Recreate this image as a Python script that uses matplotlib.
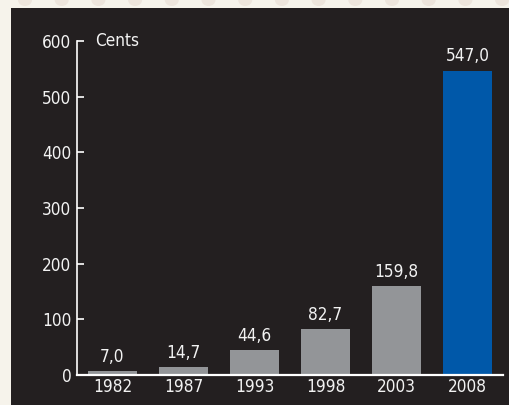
import matplotlib.pyplot as plt
from matplotlib.patches import Rectangle, Ellipse

years = ["1982", "1987", "1993", "1998", "2003", "2008"]
cents = [7.0, 14.7, 44.6, 82.7, 159.8, 547.0]
labels = ["7,0", "14,7", "44,6", "82,7", "159,8", "547,0"]

W, H = 510, 405
plt.rcParams['font.family'] = ['DejaVu Sans']
plt.rcParams['font.stretch'] = 'condensed'
FS = 12.3

fig = plt.figure(figsize=(W / 100, H / 100), dpi=100)
fig.patch.set_facecolor('#f6f3eb')

# dark panel behind the chart
fig.add_artist(Rectangle((11 / W, 0), 1, (H - 8) / H, transform=fig.transFigure,
                         facecolor='#231f20', edgecolor='none', zorder=0))
# row of dots along the top edge
for i in range(15):
    cx = 25 + i * 36.7
    fig.add_artist(Ellipse((cx / W, 1), 14 / W, 12 / H, transform=fig.transFigure,
                           facecolor='#ede5dc', edgecolor='none', zorder=0))

ax = fig.add_axes([77 / W, 30 / H, 426 / W, 334 / H])
ax.set_facecolor('none')

colors = ['#939598'] * 5 + ['#0058a9']
x = range(len(years))
bars = ax.bar(x, cents, width=0.7, color=colors, zorder=2)
for b, lab in zip(bars, labels):
    ax.text(b.get_x() + b.get_width() / 2, b.get_height() + 9, lab,
            ha='center', va='bottom', color='#f2f2f2', fontsize=FS)

ax.set_xlim(-0.5, 5.5)
ax.set_ylim(0, 600)
ax.set_yticks(range(0, 601, 100))
ax.set_xticks(list(x))
ax.set_xticklabels(years)
ax.tick_params(axis='y', direction='in', length=5, width=1.2, colors='white',
               labelcolor='#f2f2f2', labelsize=FS, pad=4)
ax.tick_params(axis='x', length=0, labelcolor='#f2f2f2', labelsize=FS, pad=2.5)
for s in ['top', 'right']:
    ax.spines[s].set_visible(False)
ax.spines['left'].set_color('white')
ax.spines['left'].set_linewidth(1.2)
ax.spines['bottom'].set_color('white')
ax.spines['bottom'].set_linewidth(1.6)

ax.text(95 / W, 1 - 41 / H, "Cents", transform=fig.transFigure, ha='left', va='center',
        color='#f2f2f2', fontsize=FS)

fig.savefig("out.png", dpi=100, facecolor=fig.get_facecolor())
